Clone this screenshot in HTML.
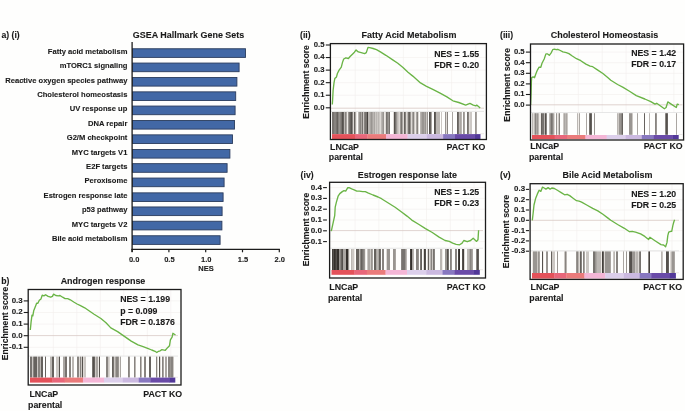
<!DOCTYPE html>
<html><head><meta charset="utf-8"><title>GSEA figure</title>
<style>
html,body{margin:0;padding:0;background:#fefefd;}
body{width:685px;height:411px;overflow:hidden;}
svg{display:block;font-family:"Liberation Sans", sans-serif;filter:blur(0.35px);}
text{stroke:#1a1a1a;stroke-width:0.1px;}
</style></head><body>
<svg width="685" height="411" viewBox="0 0 685 411">
<rect width="685" height="411" fill="#fefefd"/>
<text x="1.40" y="37.70" font-size="8.7" text-anchor="start" font-weight="bold" fill="#1a1a1a" >a) (i)</text>
<text x="132.80" y="38.20" font-size="8.95" text-anchor="start" font-weight="bold" fill="#1a1a1a" >GSEA Hallmark Gene Sets</text>
<rect x="132.50" y="48.75" width="113.00" height="8.65" fill="#4268a6" stroke="#2b3d5e" stroke-width="0.9"/>
<text x="127.40" y="54.10" font-size="7.58" text-anchor="end" font-weight="bold" fill="#1a1a1a" >Fatty acid metabolism</text>
<rect x="132.50" y="63.05" width="106.60" height="8.65" fill="#4268a6" stroke="#2b3d5e" stroke-width="0.9"/>
<text x="127.40" y="68.40" font-size="7.58" text-anchor="end" font-weight="bold" fill="#1a1a1a" >mTORC1 signaling</text>
<rect x="132.50" y="77.45" width="104.40" height="8.65" fill="#4268a6" stroke="#2b3d5e" stroke-width="0.9"/>
<text x="127.40" y="82.80" font-size="7.58" text-anchor="end" font-weight="bold" fill="#1a1a1a" >Reactive oxygen species pathway</text>
<rect x="132.50" y="91.85" width="103.20" height="8.65" fill="#4268a6" stroke="#2b3d5e" stroke-width="0.9"/>
<text x="127.40" y="97.20" font-size="7.58" text-anchor="end" font-weight="bold" fill="#1a1a1a" >Cholesterol homeostasis</text>
<rect x="132.50" y="106.05" width="102.60" height="8.65" fill="#4268a6" stroke="#2b3d5e" stroke-width="0.9"/>
<text x="127.40" y="111.40" font-size="7.58" text-anchor="end" font-weight="bold" fill="#1a1a1a" >UV response up</text>
<rect x="132.50" y="120.45" width="102.00" height="8.65" fill="#4268a6" stroke="#2b3d5e" stroke-width="0.9"/>
<text x="127.40" y="125.80" font-size="7.58" text-anchor="end" font-weight="bold" fill="#1a1a1a" >DNA repair</text>
<rect x="132.50" y="134.85" width="100.00" height="8.65" fill="#4268a6" stroke="#2b3d5e" stroke-width="0.9"/>
<text x="127.40" y="140.20" font-size="7.58" text-anchor="end" font-weight="bold" fill="#1a1a1a" >G2/M checkpoint</text>
<rect x="132.50" y="149.45" width="97.40" height="8.65" fill="#4268a6" stroke="#2b3d5e" stroke-width="0.9"/>
<text x="127.40" y="154.80" font-size="7.58" text-anchor="end" font-weight="bold" fill="#1a1a1a" >MYC targets V1</text>
<rect x="132.50" y="163.65" width="94.60" height="8.65" fill="#4268a6" stroke="#2b3d5e" stroke-width="0.9"/>
<text x="127.40" y="169.00" font-size="7.58" text-anchor="end" font-weight="bold" fill="#1a1a1a" >E2F targets</text>
<rect x="132.50" y="178.05" width="91.60" height="8.65" fill="#4268a6" stroke="#2b3d5e" stroke-width="0.9"/>
<text x="127.40" y="183.40" font-size="7.58" text-anchor="end" font-weight="bold" fill="#1a1a1a" >Peroxisome</text>
<rect x="132.50" y="192.85" width="90.60" height="8.65" fill="#4268a6" stroke="#2b3d5e" stroke-width="0.9"/>
<text x="127.40" y="198.20" font-size="7.58" text-anchor="end" font-weight="bold" fill="#1a1a1a" >Estrogen response late</text>
<rect x="132.50" y="206.95" width="89.60" height="8.65" fill="#4268a6" stroke="#2b3d5e" stroke-width="0.9"/>
<text x="127.40" y="212.30" font-size="7.58" text-anchor="end" font-weight="bold" fill="#1a1a1a" >p53 pathway</text>
<rect x="132.50" y="221.25" width="89.40" height="8.65" fill="#4268a6" stroke="#2b3d5e" stroke-width="0.9"/>
<text x="127.40" y="226.60" font-size="7.58" text-anchor="end" font-weight="bold" fill="#1a1a1a" >MYC targets V2</text>
<rect x="132.50" y="235.75" width="87.60" height="8.65" fill="#4268a6" stroke="#2b3d5e" stroke-width="0.9"/>
<text x="127.40" y="241.10" font-size="7.58" text-anchor="end" font-weight="bold" fill="#1a1a1a" >Bile acid metabolism</text>
<line x1="132.10" y1="42.00" x2="132.10" y2="252.00" stroke="#1c1c1c" stroke-width="1.3"/>
<line x1="131.50" y1="249.30" x2="279.90" y2="249.30" stroke="#1c1c1c" stroke-width="1.3"/>
<line x1="132.10" y1="249.00" x2="132.10" y2="252.30" stroke="#1c1c1c" stroke-width="1.2"/>
<text x="134.10" y="262.20" font-size="7.5" text-anchor="middle" font-weight="bold" fill="#1a1a1a" >0.0</text>
<line x1="168.90" y1="249.00" x2="168.90" y2="252.30" stroke="#1c1c1c" stroke-width="1.2"/>
<text x="169.40" y="262.20" font-size="7.5" text-anchor="middle" font-weight="bold" fill="#1a1a1a" >0.5</text>
<line x1="205.70" y1="249.00" x2="205.70" y2="252.30" stroke="#1c1c1c" stroke-width="1.2"/>
<text x="206.20" y="262.20" font-size="7.5" text-anchor="middle" font-weight="bold" fill="#1a1a1a" >1.0</text>
<line x1="242.50" y1="249.00" x2="242.50" y2="252.30" stroke="#1c1c1c" stroke-width="1.2"/>
<text x="243.00" y="262.20" font-size="7.5" text-anchor="middle" font-weight="bold" fill="#1a1a1a" >1.5</text>
<line x1="279.30" y1="249.00" x2="279.30" y2="252.30" stroke="#1c1c1c" stroke-width="1.2"/>
<text x="279.80" y="262.20" font-size="7.5" text-anchor="middle" font-weight="bold" fill="#1a1a1a" >2.0</text>
<text x="206.00" y="270.90" font-size="7.5" text-anchor="middle" font-weight="bold" fill="#1a1a1a" >NES</text>
<line x1="330.40" y1="45.00" x2="486.40" y2="45.00" stroke="#f1eeec" stroke-width="0.6"/>
<line x1="330.40" y1="57.56" x2="486.40" y2="57.56" stroke="#f1eeec" stroke-width="0.6"/>
<line x1="330.40" y1="70.12" x2="486.40" y2="70.12" stroke="#f1eeec" stroke-width="0.6"/>
<line x1="330.40" y1="82.68" x2="486.40" y2="82.68" stroke="#f1eeec" stroke-width="0.6"/>
<line x1="330.40" y1="95.24" x2="486.40" y2="95.24" stroke="#f1eeec" stroke-width="0.6"/>
<line x1="355.20" y1="43.60" x2="355.20" y2="111.40" stroke="#f1eeec" stroke-width="0.6"/>
<line x1="379.30" y1="43.60" x2="379.30" y2="111.40" stroke="#f1eeec" stroke-width="0.6"/>
<line x1="403.40" y1="43.60" x2="403.40" y2="111.40" stroke="#f1eeec" stroke-width="0.6"/>
<line x1="427.50" y1="43.60" x2="427.50" y2="111.40" stroke="#f1eeec" stroke-width="0.6"/>
<line x1="451.60" y1="43.60" x2="451.60" y2="111.40" stroke="#f1eeec" stroke-width="0.6"/>
<line x1="475.70" y1="43.60" x2="475.70" y2="111.40" stroke="#f1eeec" stroke-width="0.6"/>
<line x1="330.40" y1="108.20" x2="484.00" y2="108.20" stroke="#d8c8c4" stroke-width="0.8"/>
<line x1="330.40" y1="111.40" x2="484.00" y2="111.40" stroke="#dcdcdc" stroke-width="0.7"/>
<line x1="480.00" y1="133.70" x2="484.00" y2="133.70" stroke="#e4e0de" stroke-width="0.7"/>
<rect x="332.00" y="112.00" width="1.00" height="22.00" fill="#77736f" />
<rect x="333.00" y="112.00" width="1.00" height="22.00" fill="#77736f" />
<rect x="334.00" y="112.00" width="1.00" height="22.00" fill="#888480" />
<rect x="335.00" y="112.00" width="1.00" height="22.00" fill="#888480" />
<rect x="336.00" y="112.00" width="1.00" height="22.00" fill="#77736f" />
<rect x="337.00" y="112.00" width="1.00" height="22.00" fill="#66625e" />
<rect x="338.00" y="112.00" width="1.00" height="22.00" fill="#888480" />
<rect x="339.00" y="112.00" width="1.00" height="22.00" fill="#999591" />
<rect x="340.00" y="112.00" width="1.00" height="22.00" fill="#888480" />
<rect x="341.00" y="112.00" width="1.00" height="22.00" fill="#77736f" />
<rect x="342.00" y="112.00" width="1.00" height="22.00" fill="#55514d" />
<rect x="343.00" y="112.00" width="1.00" height="22.00" fill="#66625e" />
<rect x="344.00" y="112.00" width="1.00" height="22.00" fill="#bbb7b3" />
<rect x="345.00" y="112.00" width="1.00" height="22.00" fill="#888480" />
<rect x="346.00" y="112.00" width="1.00" height="22.00" fill="#aaa6a2" />
<rect x="347.00" y="112.00" width="1.00" height="22.00" fill="#eeeae6" />
<rect x="348.00" y="112.00" width="1.00" height="22.00" fill="#999591" />
<rect x="349.00" y="112.00" width="1.00" height="22.00" fill="#77736f" />
<rect x="350.00" y="112.00" width="1.00" height="22.00" fill="#66625e" />
<rect x="351.00" y="112.00" width="1.00" height="22.00" fill="#55514d" />
<rect x="352.00" y="112.00" width="1.00" height="22.00" fill="#888480" />
<rect x="353.00" y="112.00" width="1.00" height="22.00" fill="#ddd9d5" />
<rect x="354.00" y="112.00" width="1.00" height="22.00" fill="#66625e" />
<rect x="355.00" y="112.00" width="1.00" height="22.00" fill="#aaa6a2" />
<rect x="356.00" y="112.00" width="1.00" height="22.00" fill="#eeeae6" />
<rect x="358.00" y="112.00" width="1.00" height="22.00" fill="#bbb7b3" />
<rect x="359.00" y="112.00" width="1.00" height="22.00" fill="#999591" />
<rect x="360.00" y="112.00" width="1.00" height="22.00" fill="#888480" />
<rect x="361.00" y="112.00" width="1.00" height="22.00" fill="#aaa6a2" />
<rect x="362.00" y="112.00" width="1.00" height="22.00" fill="#77736f" />
<rect x="363.00" y="112.00" width="1.00" height="22.00" fill="#ccc8c4" />
<rect x="364.00" y="112.00" width="1.00" height="22.00" fill="#888480" />
<rect x="365.00" y="112.00" width="1.00" height="22.00" fill="#77736f" />
<rect x="366.00" y="112.00" width="1.00" height="22.00" fill="#77736f" />
<rect x="367.00" y="112.00" width="1.00" height="22.00" fill="#44403c" />
<rect x="368.00" y="112.00" width="1.00" height="22.00" fill="#bbb7b3" />
<rect x="369.00" y="112.00" width="1.00" height="22.00" fill="#bbb7b3" />
<rect x="370.00" y="112.00" width="1.00" height="22.00" fill="#aaa6a2" />
<rect x="371.00" y="112.00" width="1.00" height="22.00" fill="#999591" />
<rect x="372.00" y="112.00" width="1.00" height="22.00" fill="#aaa6a2" />
<rect x="373.00" y="112.00" width="1.00" height="22.00" fill="#bbb7b3" />
<rect x="374.00" y="112.00" width="1.00" height="22.00" fill="#aaa6a2" />
<rect x="375.00" y="112.00" width="1.00" height="22.00" fill="#ccc8c4" />
<rect x="376.00" y="112.00" width="1.00" height="22.00" fill="#bbb7b3" />
<rect x="377.00" y="112.00" width="1.00" height="22.00" fill="#ccc8c4" />
<rect x="378.00" y="112.00" width="1.00" height="22.00" fill="#bbb7b3" />
<rect x="379.00" y="112.00" width="1.00" height="22.00" fill="#ccc8c4" />
<rect x="380.00" y="112.00" width="1.00" height="22.00" fill="#ddd9d5" />
<rect x="381.00" y="112.00" width="1.00" height="22.00" fill="#bbb7b3" />
<rect x="382.00" y="112.00" width="1.00" height="22.00" fill="#aaa6a2" />
<rect x="383.00" y="112.00" width="1.00" height="22.00" fill="#999591" />
<rect x="384.00" y="112.00" width="1.00" height="22.00" fill="#eeeae6" />
<rect x="385.00" y="112.00" width="1.00" height="22.00" fill="#ddd9d5" />
<rect x="386.00" y="112.00" width="1.00" height="22.00" fill="#77736f" />
<rect x="387.00" y="112.00" width="1.00" height="22.00" fill="#888480" />
<rect x="388.00" y="112.00" width="1.00" height="22.00" fill="#999591" />
<rect x="389.00" y="112.00" width="1.00" height="22.00" fill="#77736f" />
<rect x="393.00" y="112.00" width="1.00" height="22.00" fill="#ddd9d5" />
<rect x="394.00" y="112.00" width="1.00" height="22.00" fill="#55514d" />
<rect x="395.00" y="112.00" width="1.00" height="22.00" fill="#77736f" />
<rect x="396.00" y="112.00" width="1.00" height="22.00" fill="#999591" />
<rect x="397.00" y="112.00" width="1.00" height="22.00" fill="#bbb7b3" />
<rect x="398.00" y="112.00" width="1.00" height="22.00" fill="#ccc8c4" />
<rect x="399.00" y="112.00" width="1.00" height="22.00" fill="#ddd9d5" />
<rect x="400.00" y="112.00" width="1.00" height="22.00" fill="#999591" />
<rect x="401.00" y="112.00" width="1.00" height="22.00" fill="#77736f" />
<rect x="402.00" y="112.00" width="1.00" height="22.00" fill="#aaa6a2" />
<rect x="403.00" y="112.00" width="1.00" height="22.00" fill="#ddd9d5" />
<rect x="404.00" y="112.00" width="1.00" height="22.00" fill="#66625e" />
<rect x="405.00" y="112.00" width="1.00" height="22.00" fill="#888480" />
<rect x="406.00" y="112.00" width="1.00" height="22.00" fill="#ddd9d5" />
<rect x="407.00" y="112.00" width="1.00" height="22.00" fill="#bbb7b3" />
<rect x="408.00" y="112.00" width="1.00" height="22.00" fill="#77736f" />
<rect x="409.00" y="112.00" width="1.00" height="22.00" fill="#66625e" />
<rect x="410.00" y="112.00" width="1.00" height="22.00" fill="#999591" />
<rect x="411.00" y="112.00" width="1.00" height="22.00" fill="#ddd9d5" />
<rect x="412.00" y="112.00" width="1.00" height="22.00" fill="#aaa6a2" />
<rect x="413.00" y="112.00" width="1.00" height="22.00" fill="#888480" />
<rect x="414.00" y="112.00" width="1.00" height="22.00" fill="#ccc8c4" />
<rect x="415.00" y="112.00" width="1.00" height="22.00" fill="#eeeae6" />
<rect x="416.00" y="112.00" width="1.00" height="22.00" fill="#aaa6a2" />
<rect x="417.00" y="112.00" width="1.00" height="22.00" fill="#888480" />
<rect x="418.00" y="112.00" width="1.00" height="22.00" fill="#ddd9d5" />
<rect x="420.00" y="112.00" width="1.00" height="22.00" fill="#bbb7b3" />
<rect x="421.00" y="112.00" width="1.00" height="22.00" fill="#aaa6a2" />
<rect x="422.00" y="112.00" width="1.00" height="22.00" fill="#999591" />
<rect x="423.00" y="112.00" width="1.00" height="22.00" fill="#999591" />
<rect x="424.00" y="112.00" width="1.00" height="22.00" fill="#aaa6a2" />
<rect x="425.00" y="112.00" width="1.00" height="22.00" fill="#999591" />
<rect x="426.00" y="112.00" width="1.00" height="22.00" fill="#ccc8c4" />
<rect x="427.00" y="112.00" width="1.00" height="22.00" fill="#999591" />
<rect x="429.00" y="112.00" width="1.00" height="22.00" fill="#55514d" />
<rect x="430.00" y="112.00" width="1.00" height="22.00" fill="#66625e" />
<rect x="431.00" y="112.00" width="1.00" height="22.00" fill="#aaa6a2" />
<rect x="434.00" y="112.00" width="1.00" height="22.00" fill="#55514d" />
<rect x="435.00" y="112.00" width="1.00" height="22.00" fill="#66625e" />
<rect x="436.00" y="112.00" width="1.00" height="22.00" fill="#bbb7b3" />
<rect x="437.00" y="112.00" width="1.00" height="22.00" fill="#bbb7b3" />
<rect x="438.00" y="112.00" width="1.00" height="22.00" fill="#bbb7b3" />
<rect x="439.00" y="112.00" width="1.00" height="22.00" fill="#bbb7b3" />
<rect x="441.00" y="112.00" width="1.00" height="22.00" fill="#ccc8c4" />
<rect x="445.00" y="112.00" width="1.00" height="22.00" fill="#999591" />
<rect x="446.00" y="112.00" width="1.00" height="22.00" fill="#ddd9d5" />
<rect x="447.00" y="112.00" width="1.00" height="22.00" fill="#888480" />
<rect x="452.00" y="112.00" width="1.00" height="22.00" fill="#aaa6a2" />
<rect x="457.00" y="112.00" width="1.00" height="22.00" fill="#66625e" />
<rect x="458.00" y="112.00" width="1.00" height="22.00" fill="#77736f" />
<rect x="459.00" y="112.00" width="1.00" height="22.00" fill="#bbb7b3" />
<rect x="460.00" y="112.00" width="1.00" height="22.00" fill="#aaa6a2" />
<rect x="461.00" y="112.00" width="1.00" height="22.00" fill="#bbb7b3" />
<rect x="463.00" y="112.00" width="1.00" height="22.00" fill="#999591" />
<rect x="464.00" y="112.00" width="1.00" height="22.00" fill="#aaa6a2" />
<rect x="467.00" y="112.00" width="1.00" height="22.00" fill="#77736f" />
<rect x="468.00" y="112.00" width="1.00" height="22.00" fill="#888480" />
<rect x="469.00" y="112.00" width="1.00" height="22.00" fill="#ddd9d5" />
<rect x="470.00" y="112.00" width="1.00" height="22.00" fill="#ccc8c4" />
<rect x="471.00" y="112.00" width="1.00" height="22.00" fill="#ccc8c4" />
<rect x="475.00" y="112.00" width="1.00" height="22.00" fill="#999591" />
<rect x="476.00" y="112.00" width="1.00" height="22.00" fill="#aaa6a2" />
<rect x="332.00" y="134.10" width="23.27" height="4.90" fill="#e4525a" />
<rect x="354.97" y="134.10" width="12.75" height="4.90" fill="#e8677a" />
<rect x="367.42" y="134.10" width="18.97" height="4.90" fill="#ea7b7b" />
<rect x="386.09" y="134.10" width="21.79" height="4.90" fill="#f4b6d6" />
<rect x="407.58" y="134.10" width="19.57" height="4.90" fill="#dccfeb" />
<rect x="426.85" y="134.10" width="16.60" height="4.90" fill="#cbb9e0" />
<rect x="443.15" y="134.10" width="12.16" height="4.90" fill="#8878c0" />
<rect x="455.01" y="134.10" width="19.57" height="4.90" fill="#6a4ba8" />
<rect x="474.27" y="134.10" width="6.23" height="4.90" fill="#523899" />
<polyline points="332.3,104.5 332.6,100.2 333.1,90.5 334.0,82.9 334.8,78.6 336.5,76.9 337.4,73.5 339.1,70.1 341.3,67.2 342.5,62.4 343.7,59.0 345.9,57.8 348.4,58.5 350.1,56.5 352.7,53.9 354.4,52.2 356.1,50.0 358.3,51.9 361.2,52.7 364.6,53.6 366.3,52.6 368.0,47.4 369.7,47.6 373.1,48.5 376.5,49.7 380.8,52.2 385.9,55.3 392.7,59.9 397.8,63.3 403.0,67.5 408.0,72.3 412.8,76.1 420.5,82.9 426.5,86.3 433.3,89.7 440.1,93.1 446.9,96.9 452.9,100.8 458.8,102.5 465.7,105.1 469.9,103.4 473.3,105.1 475.9,105.9 476.7,105.1 480.2,108.1" fill="none" stroke="#6ab446" stroke-width="1.35" stroke-linejoin="round"/>
<rect x="330.40" y="43.60" width="156.00" height="95.90" fill="none" stroke="#1c1c1c" stroke-width="1.3"/>
<line x1="325.80" y1="45.00" x2="330.40" y2="45.00" stroke="#1c1c1c" stroke-width="1.1"/>
<text x="324.50" y="46.90" font-size="7.7" text-anchor="end" font-weight="bold" fill="#1a1a1a" >0.5</text>
<line x1="325.80" y1="57.56" x2="330.40" y2="57.56" stroke="#1c1c1c" stroke-width="1.1"/>
<text x="324.50" y="59.46" font-size="7.7" text-anchor="end" font-weight="bold" fill="#1a1a1a" >0.4</text>
<line x1="325.80" y1="70.12" x2="330.40" y2="70.12" stroke="#1c1c1c" stroke-width="1.1"/>
<text x="324.50" y="72.02" font-size="7.7" text-anchor="end" font-weight="bold" fill="#1a1a1a" >0.3</text>
<line x1="325.80" y1="82.68" x2="330.40" y2="82.68" stroke="#1c1c1c" stroke-width="1.1"/>
<text x="324.50" y="84.58" font-size="7.7" text-anchor="end" font-weight="bold" fill="#1a1a1a" >0.2</text>
<line x1="325.80" y1="95.24" x2="330.40" y2="95.24" stroke="#1c1c1c" stroke-width="1.1"/>
<text x="324.50" y="97.14" font-size="7.7" text-anchor="end" font-weight="bold" fill="#1a1a1a" >0.1</text>
<line x1="325.80" y1="107.80" x2="330.40" y2="107.80" stroke="#1c1c1c" stroke-width="1.1"/>
<text x="324.50" y="109.70" font-size="7.7" text-anchor="end" font-weight="bold" fill="#1a1a1a" >0.0</text>
<text x="409.00" y="38.20" font-size="8.98" text-anchor="middle" font-weight="bold" fill="#1a1a1a" >Fatty Acid Metabolism</text>
<text x="300.00" y="38.20" font-size="8.7" text-anchor="start" font-weight="bold" fill="#1a1a1a" >(ii)</text>
<text x="434.20" y="57.30" font-size="8.75" text-anchor="start" font-weight="bold" fill="#1a1a1a" >NES = 1.55</text>
<text x="434.20" y="68.30" font-size="8.75" text-anchor="start" font-weight="bold" fill="#1a1a1a" >FDR = 0.20</text>
<text x="330.10" y="149.50" font-size="8.8" text-anchor="start" font-weight="bold" fill="#1a1a1a" >LNCaP</text>
<text x="328.80" y="160.10" font-size="8.8" text-anchor="start" font-weight="bold" fill="#1a1a1a" >parental</text>
<text x="485.40" y="149.50" font-size="8.8" text-anchor="end" font-weight="bold" fill="#1a1a1a" >PACT KO</text>
<text transform="translate(309.10,81.85) rotate(-90)" font-size="8.72" text-anchor="middle" font-weight="bold" fill="#1c1c1c">Enrichment score</text>
<line x1="530.50" y1="52.10" x2="683.60" y2="52.10" stroke="#f1eeec" stroke-width="0.6"/>
<line x1="530.50" y1="62.70" x2="683.60" y2="62.70" stroke="#f1eeec" stroke-width="0.6"/>
<line x1="530.50" y1="73.30" x2="683.60" y2="73.30" stroke="#f1eeec" stroke-width="0.6"/>
<line x1="530.50" y1="83.90" x2="683.60" y2="83.90" stroke="#f1eeec" stroke-width="0.6"/>
<line x1="530.50" y1="94.50" x2="683.60" y2="94.50" stroke="#f1eeec" stroke-width="0.6"/>
<line x1="554.40" y1="44.00" x2="554.40" y2="112.50" stroke="#f1eeec" stroke-width="0.6"/>
<line x1="578.30" y1="44.00" x2="578.30" y2="112.50" stroke="#f1eeec" stroke-width="0.6"/>
<line x1="602.20" y1="44.00" x2="602.20" y2="112.50" stroke="#f1eeec" stroke-width="0.6"/>
<line x1="626.10" y1="44.00" x2="626.10" y2="112.50" stroke="#f1eeec" stroke-width="0.6"/>
<line x1="650.00" y1="44.00" x2="650.00" y2="112.50" stroke="#f1eeec" stroke-width="0.6"/>
<line x1="673.90" y1="44.00" x2="673.90" y2="112.50" stroke="#f1eeec" stroke-width="0.6"/>
<line x1="530.50" y1="104.80" x2="682.40" y2="104.80" stroke="#d8c8c4" stroke-width="0.8"/>
<line x1="530.50" y1="112.50" x2="682.40" y2="112.50" stroke="#dcdcdc" stroke-width="0.7"/>
<line x1="678.40" y1="134.50" x2="682.40" y2="134.50" stroke="#e4e0de" stroke-width="0.7"/>
<rect x="532.00" y="113.20" width="1.00" height="21.60" fill="#bbb7b3" />
<rect x="533.00" y="113.20" width="1.00" height="21.60" fill="#ddd9d5" />
<rect x="534.00" y="113.20" width="1.00" height="21.60" fill="#bbb7b3" />
<rect x="535.00" y="113.20" width="1.00" height="21.60" fill="#888480" />
<rect x="536.00" y="113.20" width="1.00" height="21.60" fill="#aaa6a2" />
<rect x="537.00" y="113.20" width="1.00" height="21.60" fill="#999591" />
<rect x="538.00" y="113.20" width="1.00" height="21.60" fill="#bbb7b3" />
<rect x="539.00" y="113.20" width="1.00" height="21.60" fill="#eeeae6" />
<rect x="540.00" y="113.20" width="1.00" height="21.60" fill="#eeeae6" />
<rect x="541.00" y="113.20" width="1.00" height="21.60" fill="#66625e" />
<rect x="542.00" y="113.20" width="1.00" height="21.60" fill="#77736f" />
<rect x="543.00" y="113.20" width="1.00" height="21.60" fill="#77736f" />
<rect x="544.00" y="113.20" width="1.00" height="21.60" fill="#bbb7b3" />
<rect x="545.00" y="113.20" width="1.00" height="21.60" fill="#55514d" />
<rect x="546.00" y="113.20" width="1.00" height="21.60" fill="#888480" />
<rect x="549.00" y="113.20" width="1.00" height="21.60" fill="#bbb7b3" />
<rect x="550.00" y="113.20" width="1.00" height="21.60" fill="#999591" />
<rect x="551.00" y="113.20" width="1.00" height="21.60" fill="#77736f" />
<rect x="552.00" y="113.20" width="1.00" height="21.60" fill="#888480" />
<rect x="553.00" y="113.20" width="1.00" height="21.60" fill="#aaa6a2" />
<rect x="554.00" y="113.20" width="1.00" height="21.60" fill="#ddd9d5" />
<rect x="556.00" y="113.20" width="1.00" height="21.60" fill="#999591" />
<rect x="557.00" y="113.20" width="1.00" height="21.60" fill="#eeeae6" />
<rect x="558.00" y="113.20" width="1.00" height="21.60" fill="#ccc8c4" />
<rect x="559.00" y="113.20" width="1.00" height="21.60" fill="#888480" />
<rect x="563.00" y="113.20" width="1.00" height="21.60" fill="#ccc8c4" />
<rect x="564.00" y="113.20" width="1.00" height="21.60" fill="#aaa6a2" />
<rect x="565.00" y="113.20" width="1.00" height="21.60" fill="#bbb7b3" />
<rect x="566.00" y="113.20" width="1.00" height="21.60" fill="#aaa6a2" />
<rect x="567.00" y="113.20" width="1.00" height="21.60" fill="#ccc8c4" />
<rect x="577.00" y="113.20" width="1.00" height="21.60" fill="#bbb7b3" />
<rect x="578.00" y="113.20" width="1.00" height="21.60" fill="#eeeae6" />
<rect x="579.00" y="113.20" width="1.00" height="21.60" fill="#aaa6a2" />
<rect x="586.00" y="113.20" width="1.00" height="21.60" fill="#aaa6a2" />
<rect x="589.00" y="113.20" width="1.00" height="21.60" fill="#77736f" />
<rect x="590.00" y="113.20" width="1.00" height="21.60" fill="#55514d" />
<rect x="591.00" y="113.20" width="1.00" height="21.60" fill="#66625e" />
<rect x="594.00" y="113.20" width="1.00" height="21.60" fill="#999591" />
<rect x="617.00" y="113.20" width="1.00" height="21.60" fill="#bbb7b3" />
<rect x="618.00" y="113.20" width="1.00" height="21.60" fill="#ccc8c4" />
<rect x="619.00" y="113.20" width="1.00" height="21.60" fill="#999591" />
<rect x="620.00" y="113.20" width="1.00" height="21.60" fill="#999591" />
<rect x="621.00" y="113.20" width="1.00" height="21.60" fill="#888480" />
<rect x="622.00" y="113.20" width="1.00" height="21.60" fill="#66625e" />
<rect x="629.00" y="113.20" width="1.00" height="21.60" fill="#999591" />
<rect x="630.00" y="113.20" width="1.00" height="21.60" fill="#999591" />
<rect x="631.00" y="113.20" width="1.00" height="21.60" fill="#999591" />
<rect x="632.00" y="113.20" width="1.00" height="21.60" fill="#ccc8c4" />
<rect x="637.00" y="113.20" width="1.00" height="21.60" fill="#aaa6a2" />
<rect x="644.00" y="113.20" width="1.00" height="21.60" fill="#66625e" />
<rect x="649.00" y="113.20" width="1.00" height="21.60" fill="#bbb7b3" />
<rect x="655.00" y="113.20" width="1.00" height="21.60" fill="#888480" />
<rect x="656.00" y="113.20" width="1.00" height="21.60" fill="#999591" />
<rect x="665.00" y="113.20" width="1.00" height="21.60" fill="#888480" />
<rect x="666.00" y="113.20" width="1.00" height="21.60" fill="#55514d" />
<rect x="667.00" y="113.20" width="1.00" height="21.60" fill="#66625e" />
<rect x="676.00" y="113.20" width="1.00" height="21.60" fill="#aaa6a2" />
<rect x="532.00" y="135.00" width="22.99" height="4.20" fill="#e4525a" />
<rect x="554.69" y="135.00" width="12.60" height="4.20" fill="#e8677a" />
<rect x="566.99" y="135.00" width="18.75" height="4.20" fill="#ea7b7b" />
<rect x="585.44" y="135.00" width="21.53" height="4.20" fill="#f4b6d6" />
<rect x="606.66" y="135.00" width="19.33" height="4.20" fill="#dccfeb" />
<rect x="625.70" y="135.00" width="16.40" height="4.20" fill="#cbb9e0" />
<rect x="641.80" y="135.00" width="12.01" height="4.20" fill="#8878c0" />
<rect x="653.51" y="135.00" width="19.33" height="4.20" fill="#6a4ba8" />
<rect x="672.54" y="135.00" width="6.16" height="4.20" fill="#523899" />
<polyline points="530.6,105.0 531.1,93.1 531.4,81.1 531.7,77.7 533.1,76.9 534.5,77.7 535.7,74.3 537.4,70.1 539.1,67.2 540.8,67.2 542.0,63.3 544.2,59.0 545.9,53.9 547.6,53.9 549.3,55.3 551.0,53.1 552.7,49.7 554.4,49.1 556.1,49.7 557.8,49.3 560.3,50.5 562.9,51.9 566.3,52.6 568.9,53.6 572.3,56.0 576.5,58.7 580.8,60.7 585.9,64.1 590.1,66.2 592.7,66.7 597.8,70.1 602.9,73.5 608.0,77.7 610.8,80.3 617.6,84.5 622.7,87.1 629.5,91.3 636.3,95.6 644.8,99.0 650.8,101.6 655.0,104.1 656.7,103.3 660.2,105.8 664.4,108.7 666.1,107.5 667.8,101.9 671.2,104.1 676.3,107.5 677.2,104.1 678.9,104.6" fill="none" stroke="#6ab446" stroke-width="1.35" stroke-linejoin="round"/>
<rect x="530.50" y="44.00" width="153.10" height="96.00" fill="none" stroke="#1c1c1c" stroke-width="1.3"/>
<line x1="525.90" y1="52.10" x2="530.50" y2="52.10" stroke="#1c1c1c" stroke-width="1.1"/>
<text x="524.60" y="54.00" font-size="7.7" text-anchor="end" font-weight="bold" fill="#1a1a1a" >0.5</text>
<line x1="525.90" y1="62.70" x2="530.50" y2="62.70" stroke="#1c1c1c" stroke-width="1.1"/>
<text x="524.60" y="64.60" font-size="7.7" text-anchor="end" font-weight="bold" fill="#1a1a1a" >0.4</text>
<line x1="525.90" y1="73.30" x2="530.50" y2="73.30" stroke="#1c1c1c" stroke-width="1.1"/>
<text x="524.60" y="75.20" font-size="7.7" text-anchor="end" font-weight="bold" fill="#1a1a1a" >0.3</text>
<line x1="525.90" y1="83.90" x2="530.50" y2="83.90" stroke="#1c1c1c" stroke-width="1.1"/>
<text x="524.60" y="85.80" font-size="7.7" text-anchor="end" font-weight="bold" fill="#1a1a1a" >0.2</text>
<line x1="525.90" y1="94.50" x2="530.50" y2="94.50" stroke="#1c1c1c" stroke-width="1.1"/>
<text x="524.60" y="96.40" font-size="7.7" text-anchor="end" font-weight="bold" fill="#1a1a1a" >0.1</text>
<line x1="525.90" y1="105.10" x2="530.50" y2="105.10" stroke="#1c1c1c" stroke-width="1.1"/>
<text x="524.60" y="107.00" font-size="7.7" text-anchor="end" font-weight="bold" fill="#1a1a1a" >0.0</text>
<text x="604.50" y="38.20" font-size="8.98" text-anchor="middle" font-weight="bold" fill="#1a1a1a" >Cholesterol Homeostasis</text>
<text x="500.00" y="38.20" font-size="8.7" text-anchor="start" font-weight="bold" fill="#1a1a1a" >(iii)</text>
<text x="631.20" y="56.40" font-size="8.75" text-anchor="start" font-weight="bold" fill="#1a1a1a" >NES = 1.42</text>
<text x="631.20" y="67.40" font-size="8.75" text-anchor="start" font-weight="bold" fill="#1a1a1a" >FDR = 0.17</text>
<text x="530.20" y="149.40" font-size="8.8" text-anchor="start" font-weight="bold" fill="#1a1a1a" >LNCaP</text>
<text x="528.90" y="160.00" font-size="8.8" text-anchor="start" font-weight="bold" fill="#1a1a1a" >parental</text>
<text x="682.60" y="149.40" font-size="8.8" text-anchor="end" font-weight="bold" fill="#1a1a1a" >PACT KO</text>
<text transform="translate(509.80,84.80) rotate(-90)" font-size="8.72" text-anchor="middle" font-weight="bold" fill="#1c1c1c">Enrichment score</text>
<line x1="329.60" y1="187.60" x2="485.50" y2="187.60" stroke="#f1eeec" stroke-width="0.6"/>
<line x1="329.60" y1="198.40" x2="485.50" y2="198.40" stroke="#f1eeec" stroke-width="0.6"/>
<line x1="329.60" y1="209.20" x2="485.50" y2="209.20" stroke="#f1eeec" stroke-width="0.6"/>
<line x1="329.60" y1="220.00" x2="485.50" y2="220.00" stroke="#f1eeec" stroke-width="0.6"/>
<line x1="329.60" y1="241.60" x2="485.50" y2="241.60" stroke="#f1eeec" stroke-width="0.6"/>
<line x1="355.10" y1="182.30" x2="355.10" y2="248.20" stroke="#f1eeec" stroke-width="0.6"/>
<line x1="378.90" y1="182.30" x2="378.90" y2="248.20" stroke="#f1eeec" stroke-width="0.6"/>
<line x1="402.70" y1="182.30" x2="402.70" y2="248.20" stroke="#f1eeec" stroke-width="0.6"/>
<line x1="426.50" y1="182.30" x2="426.50" y2="248.20" stroke="#f1eeec" stroke-width="0.6"/>
<line x1="450.30" y1="182.30" x2="450.30" y2="248.20" stroke="#f1eeec" stroke-width="0.6"/>
<line x1="474.10" y1="182.30" x2="474.10" y2="248.20" stroke="#f1eeec" stroke-width="0.6"/>
<line x1="329.60" y1="230.60" x2="483.00" y2="230.60" stroke="#d8c8c4" stroke-width="0.8"/>
<line x1="329.60" y1="248.20" x2="483.00" y2="248.20" stroke="#dcdcdc" stroke-width="0.7"/>
<line x1="479.00" y1="269.70" x2="483.00" y2="269.70" stroke="#e4e0de" stroke-width="0.7"/>
<rect x="332.00" y="249.00" width="1.00" height="21.00" fill="#44403c" />
<rect x="333.00" y="249.00" width="1.00" height="21.00" fill="#55514d" />
<rect x="334.00" y="249.00" width="1.00" height="21.00" fill="#332f2b" />
<rect x="335.00" y="249.00" width="1.00" height="21.00" fill="#44403c" />
<rect x="336.00" y="249.00" width="1.00" height="21.00" fill="#55514d" />
<rect x="337.00" y="249.00" width="1.00" height="21.00" fill="#332f2b" />
<rect x="338.00" y="249.00" width="1.00" height="21.00" fill="#332f2b" />
<rect x="339.00" y="249.00" width="1.00" height="21.00" fill="#999591" />
<rect x="340.00" y="249.00" width="1.00" height="21.00" fill="#888480" />
<rect x="341.00" y="249.00" width="1.00" height="21.00" fill="#66625e" />
<rect x="342.00" y="249.00" width="1.00" height="21.00" fill="#55514d" />
<rect x="343.00" y="249.00" width="1.00" height="21.00" fill="#aaa6a2" />
<rect x="344.00" y="249.00" width="1.00" height="21.00" fill="#aaa6a2" />
<rect x="345.00" y="249.00" width="1.00" height="21.00" fill="#aaa6a2" />
<rect x="346.00" y="249.00" width="1.00" height="21.00" fill="#332f2b" />
<rect x="347.00" y="249.00" width="1.00" height="21.00" fill="#332f2b" />
<rect x="348.00" y="249.00" width="1.00" height="21.00" fill="#999591" />
<rect x="349.00" y="249.00" width="1.00" height="21.00" fill="#eeeae6" />
<rect x="351.00" y="249.00" width="1.00" height="21.00" fill="#bbb7b3" />
<rect x="352.00" y="249.00" width="1.00" height="21.00" fill="#ccc8c4" />
<rect x="353.00" y="249.00" width="1.00" height="21.00" fill="#ccc8c4" />
<rect x="354.00" y="249.00" width="1.00" height="21.00" fill="#eeeae6" />
<rect x="356.00" y="249.00" width="1.00" height="21.00" fill="#66625e" />
<rect x="357.00" y="249.00" width="1.00" height="21.00" fill="#66625e" />
<rect x="358.00" y="249.00" width="1.00" height="21.00" fill="#66625e" />
<rect x="359.00" y="249.00" width="1.00" height="21.00" fill="#bbb7b3" />
<rect x="360.00" y="249.00" width="1.00" height="21.00" fill="#888480" />
<rect x="361.00" y="249.00" width="1.00" height="21.00" fill="#66625e" />
<rect x="362.00" y="249.00" width="1.00" height="21.00" fill="#77736f" />
<rect x="363.00" y="249.00" width="1.00" height="21.00" fill="#888480" />
<rect x="364.00" y="249.00" width="1.00" height="21.00" fill="#999591" />
<rect x="365.00" y="249.00" width="1.00" height="21.00" fill="#eeeae6" />
<rect x="367.00" y="249.00" width="1.00" height="21.00" fill="#ccc8c4" />
<rect x="368.00" y="249.00" width="1.00" height="21.00" fill="#aaa6a2" />
<rect x="369.00" y="249.00" width="1.00" height="21.00" fill="#aaa6a2" />
<rect x="370.00" y="249.00" width="1.00" height="21.00" fill="#ccc8c4" />
<rect x="371.00" y="249.00" width="1.00" height="21.00" fill="#999591" />
<rect x="372.00" y="249.00" width="1.00" height="21.00" fill="#aaa6a2" />
<rect x="374.00" y="249.00" width="1.00" height="21.00" fill="#66625e" />
<rect x="375.00" y="249.00" width="1.00" height="21.00" fill="#66625e" />
<rect x="376.00" y="249.00" width="1.00" height="21.00" fill="#aaa6a2" />
<rect x="377.00" y="249.00" width="1.00" height="21.00" fill="#bbb7b3" />
<rect x="378.00" y="249.00" width="1.00" height="21.00" fill="#aaa6a2" />
<rect x="379.00" y="249.00" width="1.00" height="21.00" fill="#66625e" />
<rect x="380.00" y="249.00" width="1.00" height="21.00" fill="#77736f" />
<rect x="382.00" y="249.00" width="1.00" height="21.00" fill="#888480" />
<rect x="383.00" y="249.00" width="1.00" height="21.00" fill="#888480" />
<rect x="386.00" y="249.00" width="1.00" height="21.00" fill="#ddd9d5" />
<rect x="387.00" y="249.00" width="1.00" height="21.00" fill="#999591" />
<rect x="388.00" y="249.00" width="1.00" height="21.00" fill="#999591" />
<rect x="389.00" y="249.00" width="1.00" height="21.00" fill="#999591" />
<rect x="393.00" y="249.00" width="1.00" height="21.00" fill="#999591" />
<rect x="394.00" y="249.00" width="1.00" height="21.00" fill="#999591" />
<rect x="395.00" y="249.00" width="1.00" height="21.00" fill="#aaa6a2" />
<rect x="401.00" y="249.00" width="1.00" height="21.00" fill="#888480" />
<rect x="402.00" y="249.00" width="1.00" height="21.00" fill="#77736f" />
<rect x="403.00" y="249.00" width="1.00" height="21.00" fill="#77736f" />
<rect x="404.00" y="249.00" width="1.00" height="21.00" fill="#77736f" />
<rect x="405.00" y="249.00" width="1.00" height="21.00" fill="#999591" />
<rect x="406.00" y="249.00" width="1.00" height="21.00" fill="#bbb7b3" />
<rect x="410.00" y="249.00" width="1.00" height="21.00" fill="#44403c" />
<rect x="411.00" y="249.00" width="1.00" height="21.00" fill="#332f2b" />
<rect x="412.00" y="249.00" width="1.00" height="21.00" fill="#aaa6a2" />
<rect x="413.00" y="249.00" width="1.00" height="21.00" fill="#bbb7b3" />
<rect x="416.00" y="249.00" width="1.00" height="21.00" fill="#888480" />
<rect x="417.00" y="249.00" width="1.00" height="21.00" fill="#888480" />
<rect x="418.00" y="249.00" width="1.00" height="21.00" fill="#999591" />
<rect x="420.00" y="249.00" width="1.00" height="21.00" fill="#77736f" />
<rect x="421.00" y="249.00" width="1.00" height="21.00" fill="#66625e" />
<rect x="423.00" y="249.00" width="1.00" height="21.00" fill="#ddd9d5" />
<rect x="424.00" y="249.00" width="1.00" height="21.00" fill="#44403c" />
<rect x="425.00" y="249.00" width="1.00" height="21.00" fill="#55514d" />
<rect x="427.00" y="249.00" width="1.00" height="21.00" fill="#ddd9d5" />
<rect x="428.00" y="249.00" width="1.00" height="21.00" fill="#66625e" />
<rect x="429.00" y="249.00" width="1.00" height="21.00" fill="#ddd9d5" />
<rect x="430.00" y="249.00" width="1.00" height="21.00" fill="#bbb7b3" />
<rect x="431.00" y="249.00" width="1.00" height="21.00" fill="#888480" />
<rect x="432.00" y="249.00" width="1.00" height="21.00" fill="#ccc8c4" />
<rect x="433.00" y="249.00" width="1.00" height="21.00" fill="#77736f" />
<rect x="434.00" y="249.00" width="1.00" height="21.00" fill="#888480" />
<rect x="440.00" y="249.00" width="1.00" height="21.00" fill="#bbb7b3" />
<rect x="441.00" y="249.00" width="1.00" height="21.00" fill="#bbb7b3" />
<rect x="442.00" y="249.00" width="1.00" height="21.00" fill="#eeeae6" />
<rect x="445.00" y="249.00" width="1.00" height="21.00" fill="#999591" />
<rect x="446.00" y="249.00" width="1.00" height="21.00" fill="#999591" />
<rect x="447.00" y="249.00" width="1.00" height="21.00" fill="#55514d" />
<rect x="448.00" y="249.00" width="1.00" height="21.00" fill="#77736f" />
<rect x="450.00" y="249.00" width="1.00" height="21.00" fill="#888480" />
<rect x="451.00" y="249.00" width="1.00" height="21.00" fill="#999591" />
<rect x="455.00" y="249.00" width="1.00" height="21.00" fill="#888480" />
<rect x="456.00" y="249.00" width="1.00" height="21.00" fill="#888480" />
<rect x="458.00" y="249.00" width="1.00" height="21.00" fill="#44403c" />
<rect x="459.00" y="249.00" width="1.00" height="21.00" fill="#332f2b" />
<rect x="462.00" y="249.00" width="1.00" height="21.00" fill="#55514d" />
<rect x="463.00" y="249.00" width="1.00" height="21.00" fill="#44403c" />
<rect x="464.00" y="249.00" width="1.00" height="21.00" fill="#ddd9d5" />
<rect x="467.00" y="249.00" width="1.00" height="21.00" fill="#bbb7b3" />
<rect x="468.00" y="249.00" width="1.00" height="21.00" fill="#bbb7b3" />
<rect x="469.00" y="249.00" width="1.00" height="21.00" fill="#aaa6a2" />
<rect x="470.00" y="249.00" width="1.00" height="21.00" fill="#888480" />
<rect x="471.00" y="249.00" width="1.00" height="21.00" fill="#999591" />
<rect x="472.00" y="249.00" width="1.00" height="21.00" fill="#aaa6a2" />
<rect x="476.00" y="249.00" width="1.00" height="21.00" fill="#888480" />
<rect x="477.00" y="249.00" width="1.00" height="21.00" fill="#55514d" />
<rect x="478.00" y="249.00" width="1.00" height="21.00" fill="#66625e" />
<rect x="331.50" y="270.00" width="23.24" height="4.80" fill="#e4525a" />
<rect x="354.44" y="270.00" width="12.73" height="4.80" fill="#e8677a" />
<rect x="366.87" y="270.00" width="18.95" height="4.80" fill="#ea7b7b" />
<rect x="385.52" y="270.00" width="21.76" height="4.80" fill="#f4b6d6" />
<rect x="406.98" y="270.00" width="19.54" height="4.80" fill="#dccfeb" />
<rect x="426.22" y="270.00" width="16.58" height="4.80" fill="#cbb9e0" />
<rect x="442.50" y="270.00" width="12.14" height="4.80" fill="#8878c0" />
<rect x="454.34" y="270.00" width="19.54" height="4.80" fill="#6a4ba8" />
<rect x="473.58" y="270.00" width="6.22" height="4.80" fill="#523899" />
<polyline points="331.3,231.1 333.0,223.4 334.7,215.7 335.2,207.2 336.4,202.1 338.1,196.2 339.8,193.6 342.3,191.6 344.0,190.6 345.7,191.1 347.8,187.7 349.1,187.7 351.7,188.9 354.2,189.9 356.8,191.1 359.3,191.1 362.7,191.6 365.3,191.6 367.9,192.8 373.0,195.0 378.1,197.0 381.5,198.7 388.3,203.0 395.1,207.2 401.9,212.3 407.0,216.1 411.8,220.1 418.6,224.3 425.5,228.6 432.3,232.5 439.1,237.1 445.1,240.5 449.3,241.4 452.7,243.1 456.1,244.4 459.6,244.8 462.1,243.1 463.8,240.5 467.2,241.7 470.6,240.5 473.2,238.3 476.6,241.4 478.0,239.7 478.6,230.3" fill="none" stroke="#6ab446" stroke-width="1.35" stroke-linejoin="round"/>
<rect x="329.60" y="182.30" width="155.90" height="95.70" fill="none" stroke="#1c1c1c" stroke-width="1.3"/>
<line x1="323.10" y1="187.60" x2="326.90" y2="187.60" stroke="#1c1c1c" stroke-width="1.1"/>
<text x="322.00" y="189.50" font-size="8.1" text-anchor="end" font-weight="bold" fill="#1a1a1a" >0.4</text>
<line x1="323.10" y1="198.40" x2="326.90" y2="198.40" stroke="#1c1c1c" stroke-width="1.1"/>
<text x="322.00" y="200.30" font-size="8.1" text-anchor="end" font-weight="bold" fill="#1a1a1a" >0.3</text>
<line x1="323.10" y1="209.20" x2="326.90" y2="209.20" stroke="#1c1c1c" stroke-width="1.1"/>
<text x="322.00" y="211.10" font-size="8.1" text-anchor="end" font-weight="bold" fill="#1a1a1a" >0.2</text>
<line x1="323.10" y1="220.00" x2="326.90" y2="220.00" stroke="#1c1c1c" stroke-width="1.1"/>
<text x="322.00" y="221.90" font-size="8.1" text-anchor="end" font-weight="bold" fill="#1a1a1a" >0.1</text>
<line x1="323.10" y1="230.80" x2="326.90" y2="230.80" stroke="#1c1c1c" stroke-width="1.1"/>
<text x="322.00" y="232.70" font-size="8.1" text-anchor="end" font-weight="bold" fill="#1a1a1a" >0.0</text>
<line x1="323.10" y1="241.60" x2="326.90" y2="241.60" stroke="#1c1c1c" stroke-width="1.1"/>
<text x="322.00" y="243.50" font-size="8.1" text-anchor="end" font-weight="bold" fill="#1a1a1a" >-0.1</text>
<text x="407.30" y="178.20" font-size="8.98" text-anchor="middle" font-weight="bold" fill="#1a1a1a" >Estrogen response late</text>
<text x="300.60" y="178.20" font-size="8.7" text-anchor="start" font-weight="bold" fill="#1a1a1a" >(iv)</text>
<text x="434.20" y="194.60" font-size="8.75" text-anchor="start" font-weight="bold" fill="#1a1a1a" >NES = 1.25</text>
<text x="434.20" y="205.90" font-size="8.75" text-anchor="start" font-weight="bold" fill="#1a1a1a" >FDR = 0.23</text>
<text x="329.30" y="290.00" font-size="8.8" text-anchor="start" font-weight="bold" fill="#1a1a1a" >LNCaP</text>
<text x="328.00" y="300.60" font-size="8.8" text-anchor="start" font-weight="bold" fill="#1a1a1a" >parental</text>
<text x="485.70" y="290.00" font-size="8.8" text-anchor="end" font-weight="bold" fill="#1a1a1a" >PACT KO</text>
<text transform="translate(308.90,229.50) rotate(-90)" font-size="8.72" text-anchor="middle" font-weight="bold" fill="#1c1c1c">Enrichment score</text>
<line x1="530.10" y1="189.40" x2="683.20" y2="189.40" stroke="#f1eeec" stroke-width="0.6"/>
<line x1="530.10" y1="199.70" x2="683.20" y2="199.70" stroke="#f1eeec" stroke-width="0.6"/>
<line x1="530.10" y1="210.00" x2="683.20" y2="210.00" stroke="#f1eeec" stroke-width="0.6"/>
<line x1="530.10" y1="230.60" x2="683.20" y2="230.60" stroke="#f1eeec" stroke-width="0.6"/>
<line x1="530.10" y1="240.90" x2="683.20" y2="240.90" stroke="#f1eeec" stroke-width="0.6"/>
<line x1="530.10" y1="251.20" x2="683.20" y2="251.20" stroke="#f1eeec" stroke-width="0.6"/>
<line x1="553.00" y1="183.70" x2="553.00" y2="250.80" stroke="#f1eeec" stroke-width="0.6"/>
<line x1="576.80" y1="183.70" x2="576.80" y2="250.80" stroke="#f1eeec" stroke-width="0.6"/>
<line x1="600.60" y1="183.70" x2="600.60" y2="250.80" stroke="#f1eeec" stroke-width="0.6"/>
<line x1="624.40" y1="183.70" x2="624.40" y2="250.80" stroke="#f1eeec" stroke-width="0.6"/>
<line x1="648.20" y1="183.70" x2="648.20" y2="250.80" stroke="#f1eeec" stroke-width="0.6"/>
<line x1="672.00" y1="183.70" x2="672.00" y2="250.80" stroke="#f1eeec" stroke-width="0.6"/>
<line x1="530.10" y1="220.30" x2="679.00" y2="220.30" stroke="#d8c8c4" stroke-width="0.8"/>
<line x1="530.10" y1="250.80" x2="679.00" y2="250.80" stroke="#dcdcdc" stroke-width="0.7"/>
<line x1="675.00" y1="272.70" x2="679.00" y2="272.70" stroke="#e4e0de" stroke-width="0.7"/>
<rect x="532.00" y="251.40" width="1.00" height="21.60" fill="#eeeae6" />
<rect x="533.00" y="251.40" width="1.00" height="21.60" fill="#999591" />
<rect x="534.00" y="251.40" width="1.00" height="21.60" fill="#999591" />
<rect x="535.00" y="251.40" width="1.00" height="21.60" fill="#999591" />
<rect x="536.00" y="251.40" width="1.00" height="21.60" fill="#999591" />
<rect x="537.00" y="251.40" width="1.00" height="21.60" fill="#ccc8c4" />
<rect x="538.00" y="251.40" width="1.00" height="21.60" fill="#999591" />
<rect x="539.00" y="251.40" width="1.00" height="21.60" fill="#aaa6a2" />
<rect x="542.00" y="251.40" width="1.00" height="21.60" fill="#55514d" />
<rect x="543.00" y="251.40" width="1.00" height="21.60" fill="#eeeae6" />
<rect x="546.00" y="251.40" width="1.00" height="21.60" fill="#999591" />
<rect x="547.00" y="251.40" width="1.00" height="21.60" fill="#999591" />
<rect x="551.00" y="251.40" width="1.00" height="21.60" fill="#66625e" />
<rect x="552.00" y="251.40" width="1.00" height="21.60" fill="#ccc8c4" />
<rect x="553.00" y="251.40" width="1.00" height="21.60" fill="#ccc8c4" />
<rect x="554.00" y="251.40" width="1.00" height="21.60" fill="#ccc8c4" />
<rect x="557.00" y="251.40" width="1.00" height="21.60" fill="#999591" />
<rect x="564.00" y="251.40" width="1.00" height="21.60" fill="#ccc8c4" />
<rect x="565.00" y="251.40" width="1.00" height="21.60" fill="#888480" />
<rect x="566.00" y="251.40" width="1.00" height="21.60" fill="#bbb7b3" />
<rect x="576.00" y="251.40" width="1.00" height="21.60" fill="#999591" />
<rect x="577.00" y="251.40" width="1.00" height="21.60" fill="#888480" />
<rect x="578.00" y="251.40" width="1.00" height="21.60" fill="#bbb7b3" />
<rect x="579.00" y="251.40" width="1.00" height="21.60" fill="#ddd9d5" />
<rect x="580.00" y="251.40" width="1.00" height="21.60" fill="#66625e" />
<rect x="581.00" y="251.40" width="1.00" height="21.60" fill="#888480" />
<rect x="583.00" y="251.40" width="1.00" height="21.60" fill="#888480" />
<rect x="584.00" y="251.40" width="1.00" height="21.60" fill="#aaa6a2" />
<rect x="586.00" y="251.40" width="1.00" height="21.60" fill="#ccc8c4" />
<rect x="587.00" y="251.40" width="1.00" height="21.60" fill="#ccc8c4" />
<rect x="588.00" y="251.40" width="1.00" height="21.60" fill="#ccc8c4" />
<rect x="593.00" y="251.40" width="1.00" height="21.60" fill="#77736f" />
<rect x="594.00" y="251.40" width="1.00" height="21.60" fill="#77736f" />
<rect x="595.00" y="251.40" width="1.00" height="21.60" fill="#999591" />
<rect x="596.00" y="251.40" width="1.00" height="21.60" fill="#aaa6a2" />
<rect x="597.00" y="251.40" width="1.00" height="21.60" fill="#bbb7b3" />
<rect x="598.00" y="251.40" width="1.00" height="21.60" fill="#bbb7b3" />
<rect x="599.00" y="251.40" width="1.00" height="21.60" fill="#bbb7b3" />
<rect x="600.00" y="251.40" width="1.00" height="21.60" fill="#bbb7b3" />
<rect x="601.00" y="251.40" width="1.00" height="21.60" fill="#eeeae6" />
<rect x="602.00" y="251.40" width="1.00" height="21.60" fill="#44403c" />
<rect x="603.00" y="251.40" width="1.00" height="21.60" fill="#66625e" />
<rect x="604.00" y="251.40" width="1.00" height="21.60" fill="#ddd9d5" />
<rect x="605.00" y="251.40" width="1.00" height="21.60" fill="#999591" />
<rect x="606.00" y="251.40" width="1.00" height="21.60" fill="#999591" />
<rect x="607.00" y="251.40" width="1.00" height="21.60" fill="#999591" />
<rect x="608.00" y="251.40" width="1.00" height="21.60" fill="#999591" />
<rect x="609.00" y="251.40" width="1.00" height="21.60" fill="#999591" />
<rect x="610.00" y="251.40" width="1.00" height="21.60" fill="#aaa6a2" />
<rect x="613.00" y="251.40" width="1.00" height="21.60" fill="#ccc8c4" />
<rect x="614.00" y="251.40" width="1.00" height="21.60" fill="#bbb7b3" />
<rect x="616.00" y="251.40" width="1.00" height="21.60" fill="#888480" />
<rect x="617.00" y="251.40" width="1.00" height="21.60" fill="#888480" />
<rect x="623.00" y="251.40" width="1.00" height="21.60" fill="#aaa6a2" />
<rect x="626.00" y="251.40" width="1.00" height="21.60" fill="#999591" />
<rect x="629.00" y="251.40" width="1.00" height="21.60" fill="#66625e" />
<rect x="630.00" y="251.40" width="1.00" height="21.60" fill="#55514d" />
<rect x="631.00" y="251.40" width="1.00" height="21.60" fill="#55514d" />
<rect x="632.00" y="251.40" width="1.00" height="21.60" fill="#999591" />
<rect x="633.00" y="251.40" width="1.00" height="21.60" fill="#999591" />
<rect x="634.00" y="251.40" width="1.00" height="21.60" fill="#999591" />
<rect x="635.00" y="251.40" width="1.00" height="21.60" fill="#ccc8c4" />
<rect x="636.00" y="251.40" width="1.00" height="21.60" fill="#bbb7b3" />
<rect x="637.00" y="251.40" width="1.00" height="21.60" fill="#bbb7b3" />
<rect x="638.00" y="251.40" width="1.00" height="21.60" fill="#ddd9d5" />
<rect x="639.00" y="251.40" width="1.00" height="21.60" fill="#888480" />
<rect x="640.00" y="251.40" width="1.00" height="21.60" fill="#77736f" />
<rect x="648.00" y="251.40" width="1.00" height="21.60" fill="#888480" />
<rect x="649.00" y="251.40" width="1.00" height="21.60" fill="#44403c" />
<rect x="661.00" y="251.40" width="1.00" height="21.60" fill="#bbb7b3" />
<rect x="662.00" y="251.40" width="1.00" height="21.60" fill="#ccc8c4" />
<rect x="666.00" y="251.40" width="1.00" height="21.60" fill="#55514d" />
<rect x="667.00" y="251.40" width="1.00" height="21.60" fill="#55514d" />
<rect x="668.00" y="251.40" width="1.00" height="21.60" fill="#66625e" />
<rect x="670.00" y="251.40" width="1.00" height="21.60" fill="#ddd9d5" />
<rect x="671.00" y="251.40" width="1.00" height="21.60" fill="#bbb7b3" />
<rect x="672.00" y="251.40" width="1.00" height="21.60" fill="#999591" />
<rect x="673.00" y="251.40" width="1.00" height="21.60" fill="#999591" />
<rect x="674.00" y="251.40" width="1.00" height="21.60" fill="#aaa6a2" />
<rect x="532.00" y="273.00" width="22.56" height="5.60" fill="#e4525a" />
<rect x="554.26" y="273.00" width="12.36" height="5.60" fill="#e8677a" />
<rect x="566.32" y="273.00" width="18.39" height="5.60" fill="#ea7b7b" />
<rect x="584.41" y="273.00" width="21.12" height="5.60" fill="#f4b6d6" />
<rect x="605.24" y="273.00" width="18.97" height="5.60" fill="#dccfeb" />
<rect x="623.90" y="273.00" width="16.10" height="5.60" fill="#cbb9e0" />
<rect x="639.70" y="273.00" width="11.79" height="5.60" fill="#8878c0" />
<rect x="651.19" y="273.00" width="18.97" height="5.60" fill="#6a4ba8" />
<rect x="669.86" y="273.00" width="6.04" height="5.60" fill="#523899" />
<polyline points="532.3,220.3 533.1,213.5 534.0,205.0 535.7,198.2 537.4,193.9 539.1,190.2 540.8,191.4 542.5,187.1 544.2,188.0 545.9,189.1 548.1,187.6 550.1,189.1 551.8,188.0 554.4,188.5 557.8,190.5 561.2,192.6 564.6,194.8 567.1,194.3 569.7,195.6 573.1,198.2 576.5,200.7 579.1,201.1 581.6,202.1 586.7,205.0 592.7,208.4 597.8,210.9 602.9,214.3 608.0,218.1 610.8,220.3 617.6,224.5 624.4,228.3 629.5,231.7 632.1,231.3 635.5,232.2 640.6,233.9 644.8,236.4 648.6,239.5 649.9,237.3 655.0,240.7 661.0,244.6 663.6,245.0 665.6,246.7 667.0,242.4 667.8,235.6 668.7,232.2 670.7,231.3 671.7,231.3 672.9,225.4 673.8,222.0 674.6,219.8" fill="none" stroke="#6ab446" stroke-width="1.35" stroke-linejoin="round"/>
<rect x="530.10" y="183.70" width="153.10" height="95.70" fill="none" stroke="#1c1c1c" stroke-width="1.3"/>
<line x1="525.90" y1="189.40" x2="529.10" y2="189.40" stroke="#1c1c1c" stroke-width="1.1"/>
<text x="525.10" y="191.30" font-size="7.9" text-anchor="end" font-weight="bold" fill="#1a1a1a" >0.3</text>
<line x1="525.90" y1="199.70" x2="529.10" y2="199.70" stroke="#1c1c1c" stroke-width="1.1"/>
<text x="525.10" y="201.60" font-size="7.9" text-anchor="end" font-weight="bold" fill="#1a1a1a" >0.2</text>
<line x1="525.90" y1="210.00" x2="529.10" y2="210.00" stroke="#1c1c1c" stroke-width="1.1"/>
<text x="525.10" y="211.90" font-size="7.9" text-anchor="end" font-weight="bold" fill="#1a1a1a" >0.1</text>
<line x1="525.90" y1="220.30" x2="529.10" y2="220.30" stroke="#1c1c1c" stroke-width="1.1"/>
<text x="525.10" y="222.20" font-size="7.9" text-anchor="end" font-weight="bold" fill="#1a1a1a" >0.0</text>
<line x1="525.90" y1="230.60" x2="529.10" y2="230.60" stroke="#1c1c1c" stroke-width="1.1"/>
<text x="525.10" y="232.50" font-size="7.9" text-anchor="end" font-weight="bold" fill="#1a1a1a" >-0.1</text>
<line x1="525.90" y1="240.90" x2="529.10" y2="240.90" stroke="#1c1c1c" stroke-width="1.1"/>
<text x="525.10" y="242.80" font-size="7.9" text-anchor="end" font-weight="bold" fill="#1a1a1a" >-0.2</text>
<line x1="525.90" y1="251.20" x2="529.10" y2="251.20" stroke="#1c1c1c" stroke-width="1.1"/>
<text x="525.10" y="253.10" font-size="7.9" text-anchor="end" font-weight="bold" fill="#1a1a1a" >-0.3</text>
<text x="607.50" y="178.20" font-size="8.98" text-anchor="middle" font-weight="bold" fill="#1a1a1a" >Bile Acid Metabolism</text>
<text x="500.00" y="178.20" font-size="8.7" text-anchor="start" font-weight="bold" fill="#1a1a1a" >(v)</text>
<text x="631.20" y="196.90" font-size="8.75" text-anchor="start" font-weight="bold" fill="#1a1a1a" >NES = 1.20</text>
<text x="631.20" y="207.90" font-size="8.75" text-anchor="start" font-weight="bold" fill="#1a1a1a" >FDR = 0.25</text>
<text x="530.60" y="290.00" font-size="8.8" text-anchor="start" font-weight="bold" fill="#1a1a1a" >LNCaP</text>
<text x="529.30" y="300.60" font-size="8.8" text-anchor="start" font-weight="bold" fill="#1a1a1a" >parental</text>
<text x="682.20" y="290.00" font-size="8.8" text-anchor="end" font-weight="bold" fill="#1a1a1a" >PACT KO</text>
<text transform="translate(508.60,231.40) rotate(-90)" font-size="8.72" text-anchor="middle" font-weight="bold" fill="#1c1c1c">Enrichment score</text>
<line x1="28.20" y1="300.90" x2="181.00" y2="300.90" stroke="#f1eeec" stroke-width="0.6"/>
<line x1="28.20" y1="312.50" x2="181.00" y2="312.50" stroke="#f1eeec" stroke-width="0.6"/>
<line x1="28.20" y1="324.10" x2="181.00" y2="324.10" stroke="#f1eeec" stroke-width="0.6"/>
<line x1="28.20" y1="347.30" x2="181.00" y2="347.30" stroke="#f1eeec" stroke-width="0.6"/>
<line x1="53.30" y1="289.50" x2="53.30" y2="356.10" stroke="#f1eeec" stroke-width="0.6"/>
<line x1="76.80" y1="289.50" x2="76.80" y2="356.10" stroke="#f1eeec" stroke-width="0.6"/>
<line x1="100.30" y1="289.50" x2="100.30" y2="356.10" stroke="#f1eeec" stroke-width="0.6"/>
<line x1="123.80" y1="289.50" x2="123.80" y2="356.10" stroke="#f1eeec" stroke-width="0.6"/>
<line x1="147.30" y1="289.50" x2="147.30" y2="356.10" stroke="#f1eeec" stroke-width="0.6"/>
<line x1="170.80" y1="289.50" x2="170.80" y2="356.10" stroke="#f1eeec" stroke-width="0.6"/>
<line x1="28.20" y1="335.60" x2="178.00" y2="335.60" stroke="#d8c8c4" stroke-width="0.8"/>
<line x1="28.20" y1="356.10" x2="178.00" y2="356.10" stroke="#dcdcdc" stroke-width="0.7"/>
<line x1="174.00" y1="377.30" x2="178.00" y2="377.30" stroke="#e4e0de" stroke-width="0.7"/>
<rect x="30.00" y="356.60" width="1.00" height="21.00" fill="#77736f" />
<rect x="31.00" y="356.60" width="1.00" height="21.00" fill="#77736f" />
<rect x="32.00" y="356.60" width="1.00" height="21.00" fill="#ccc8c4" />
<rect x="33.00" y="356.60" width="1.00" height="21.00" fill="#888480" />
<rect x="34.00" y="356.60" width="1.00" height="21.00" fill="#66625e" />
<rect x="35.00" y="356.60" width="1.00" height="21.00" fill="#66625e" />
<rect x="36.00" y="356.60" width="1.00" height="21.00" fill="#66625e" />
<rect x="37.00" y="356.60" width="1.00" height="21.00" fill="#ccc8c4" />
<rect x="38.00" y="356.60" width="1.00" height="21.00" fill="#888480" />
<rect x="39.00" y="356.60" width="1.00" height="21.00" fill="#888480" />
<rect x="40.00" y="356.60" width="1.00" height="21.00" fill="#bbb7b3" />
<rect x="41.00" y="356.60" width="1.00" height="21.00" fill="#66625e" />
<rect x="42.00" y="356.60" width="1.00" height="21.00" fill="#66625e" />
<rect x="45.00" y="356.60" width="1.00" height="21.00" fill="#66625e" />
<rect x="50.00" y="356.60" width="1.00" height="21.00" fill="#bbb7b3" />
<rect x="51.00" y="356.60" width="1.00" height="21.00" fill="#bbb7b3" />
<rect x="52.00" y="356.60" width="1.00" height="21.00" fill="#66625e" />
<rect x="53.00" y="356.60" width="1.00" height="21.00" fill="#66625e" />
<rect x="56.00" y="356.60" width="1.00" height="21.00" fill="#ccc8c4" />
<rect x="57.00" y="356.60" width="1.00" height="21.00" fill="#ccc8c4" />
<rect x="58.00" y="356.60" width="1.00" height="21.00" fill="#ccc8c4" />
<rect x="59.00" y="356.60" width="1.00" height="21.00" fill="#55514d" />
<rect x="63.00" y="356.60" width="1.00" height="21.00" fill="#aaa6a2" />
<rect x="64.00" y="356.60" width="1.00" height="21.00" fill="#aaa6a2" />
<rect x="65.00" y="356.60" width="1.00" height="21.00" fill="#77736f" />
<rect x="66.00" y="356.60" width="1.00" height="21.00" fill="#77736f" />
<rect x="69.00" y="356.60" width="1.00" height="21.00" fill="#888480" />
<rect x="70.00" y="356.60" width="1.00" height="21.00" fill="#888480" />
<rect x="72.00" y="356.60" width="1.00" height="21.00" fill="#bbb7b3" />
<rect x="73.00" y="356.60" width="1.00" height="21.00" fill="#bbb7b3" />
<rect x="77.00" y="356.60" width="1.00" height="21.00" fill="#888480" />
<rect x="78.00" y="356.60" width="1.00" height="21.00" fill="#888480" />
<rect x="79.00" y="356.60" width="1.00" height="21.00" fill="#ddd9d5" />
<rect x="80.00" y="356.60" width="1.00" height="21.00" fill="#888480" />
<rect x="81.00" y="356.60" width="1.00" height="21.00" fill="#ccc8c4" />
<rect x="82.00" y="356.60" width="1.00" height="21.00" fill="#55514d" />
<rect x="83.00" y="356.60" width="1.00" height="21.00" fill="#ddd9d5" />
<rect x="84.00" y="356.60" width="1.00" height="21.00" fill="#ccc8c4" />
<rect x="85.00" y="356.60" width="1.00" height="21.00" fill="#ccc8c4" />
<rect x="92.00" y="356.60" width="1.00" height="21.00" fill="#77736f" />
<rect x="93.00" y="356.60" width="1.00" height="21.00" fill="#55514d" />
<rect x="94.00" y="356.60" width="1.00" height="21.00" fill="#66625e" />
<rect x="95.00" y="356.60" width="1.00" height="21.00" fill="#ccc8c4" />
<rect x="96.00" y="356.60" width="1.00" height="21.00" fill="#aaa6a2" />
<rect x="97.00" y="356.60" width="1.00" height="21.00" fill="#aaa6a2" />
<rect x="98.00" y="356.60" width="1.00" height="21.00" fill="#eeeae6" />
<rect x="99.00" y="356.60" width="1.00" height="21.00" fill="#55514d" />
<rect x="106.00" y="356.60" width="1.00" height="21.00" fill="#888480" />
<rect x="107.00" y="356.60" width="1.00" height="21.00" fill="#888480" />
<rect x="108.00" y="356.60" width="1.00" height="21.00" fill="#ccc8c4" />
<rect x="109.00" y="356.60" width="1.00" height="21.00" fill="#ddd9d5" />
<rect x="112.00" y="356.60" width="1.00" height="21.00" fill="#66625e" />
<rect x="113.00" y="356.60" width="1.00" height="21.00" fill="#77736f" />
<rect x="114.00" y="356.60" width="1.00" height="21.00" fill="#ccc8c4" />
<rect x="115.00" y="356.60" width="1.00" height="21.00" fill="#aaa6a2" />
<rect x="116.00" y="356.60" width="1.00" height="21.00" fill="#888480" />
<rect x="117.00" y="356.60" width="1.00" height="21.00" fill="#888480" />
<rect x="118.00" y="356.60" width="1.00" height="21.00" fill="#999591" />
<rect x="119.00" y="356.60" width="1.00" height="21.00" fill="#eeeae6" />
<rect x="120.00" y="356.60" width="1.00" height="21.00" fill="#aaa6a2" />
<rect x="128.00" y="356.60" width="1.00" height="21.00" fill="#888480" />
<rect x="129.00" y="356.60" width="1.00" height="21.00" fill="#999591" />
<rect x="134.00" y="356.60" width="1.00" height="21.00" fill="#888480" />
<rect x="135.00" y="356.60" width="1.00" height="21.00" fill="#bbb7b3" />
<rect x="140.00" y="356.60" width="1.00" height="21.00" fill="#888480" />
<rect x="141.00" y="356.60" width="1.00" height="21.00" fill="#bbb7b3" />
<rect x="144.00" y="356.60" width="1.00" height="21.00" fill="#888480" />
<rect x="145.00" y="356.60" width="1.00" height="21.00" fill="#888480" />
<rect x="149.00" y="356.60" width="1.00" height="21.00" fill="#66625e" />
<rect x="150.00" y="356.60" width="1.00" height="21.00" fill="#66625e" />
<rect x="156.00" y="356.60" width="1.00" height="21.00" fill="#888480" />
<rect x="157.00" y="356.60" width="1.00" height="21.00" fill="#ddd9d5" />
<rect x="159.00" y="356.60" width="1.00" height="21.00" fill="#55514d" />
<rect x="160.00" y="356.60" width="1.00" height="21.00" fill="#ddd9d5" />
<rect x="162.00" y="356.60" width="1.00" height="21.00" fill="#888480" />
<rect x="163.00" y="356.60" width="1.00" height="21.00" fill="#aaa6a2" />
<rect x="165.00" y="356.60" width="1.00" height="21.00" fill="#aaa6a2" />
<rect x="166.00" y="356.60" width="1.00" height="21.00" fill="#aaa6a2" />
<rect x="168.00" y="356.60" width="1.00" height="21.00" fill="#888480" />
<rect x="169.00" y="356.60" width="1.00" height="21.00" fill="#888480" />
<rect x="170.00" y="356.60" width="1.00" height="21.00" fill="#999591" />
<rect x="171.00" y="356.60" width="1.00" height="21.00" fill="#888480" />
<rect x="172.00" y="356.60" width="1.00" height="21.00" fill="#888480" />
<rect x="173.00" y="356.60" width="1.00" height="21.00" fill="#ccc8c4" />
<rect x="30.00" y="377.60" width="22.78" height="5.00" fill="#e4525a" />
<rect x="52.48" y="377.60" width="12.48" height="5.00" fill="#e8677a" />
<rect x="64.66" y="377.60" width="18.57" height="5.00" fill="#ea7b7b" />
<rect x="82.92" y="377.60" width="21.33" height="5.00" fill="#f4b6d6" />
<rect x="103.95" y="377.60" width="19.15" height="5.00" fill="#dccfeb" />
<rect x="122.80" y="377.60" width="16.25" height="5.00" fill="#cbb9e0" />
<rect x="138.75" y="377.60" width="11.90" height="5.00" fill="#8878c0" />
<rect x="150.35" y="377.60" width="19.15" height="5.00" fill="#6a4ba8" />
<rect x="169.20" y="377.60" width="6.10" height="5.00" fill="#523899" />
<polyline points="30.3,330.0 30.6,327.0 31.1,321.9 32.0,315.1 32.8,315.9 33.7,310.8 35.4,306.6 36.6,303.2 37.9,303.2 39.3,300.3 41.0,298.9 42.2,295.2 43.9,295.9 45.6,294.7 48.1,296.4 50.7,297.2 52.4,296.4 53.6,294.1 55.8,295.5 58.3,295.9 60.0,295.5 62.6,297.2 65.1,298.6 67.7,298.6 70.3,299.8 73.7,302.0 77.1,304.0 80.5,305.7 84.7,307.8 89.0,310.8 94.1,314.2 100.9,318.5 106.0,322.7 110.8,327.9 117.6,331.6 124.4,336.4 131.2,341.1 138.0,344.9 143.1,346.6 148.3,348.6 151.7,350.0 155.1,351.3 156.8,352.5 158.5,351.3 160.2,350.8 161.9,349.6 165.3,350.3 167.8,347.4 169.5,345.7 170.4,339.8 172.1,337.2 172.9,333.3 175.5,335.0" fill="none" stroke="#6ab446" stroke-width="1.35" stroke-linejoin="round"/>
<rect x="28.20" y="289.50" width="152.80" height="95.50" fill="none" stroke="#1c1c1c" stroke-width="1.3"/>
<line x1="23.70" y1="300.90" x2="28.20" y2="300.90" stroke="#1c1c1c" stroke-width="1.1"/>
<text x="22.70" y="302.80" font-size="7.9" text-anchor="end" font-weight="bold" fill="#1a1a1a" >0.3</text>
<line x1="23.70" y1="312.50" x2="28.20" y2="312.50" stroke="#1c1c1c" stroke-width="1.1"/>
<text x="22.70" y="314.40" font-size="7.9" text-anchor="end" font-weight="bold" fill="#1a1a1a" >0.2</text>
<line x1="23.70" y1="324.10" x2="28.20" y2="324.10" stroke="#1c1c1c" stroke-width="1.1"/>
<text x="22.70" y="326.00" font-size="7.9" text-anchor="end" font-weight="bold" fill="#1a1a1a" >0.1</text>
<line x1="23.70" y1="335.70" x2="28.20" y2="335.70" stroke="#1c1c1c" stroke-width="1.1"/>
<text x="22.70" y="337.60" font-size="7.9" text-anchor="end" font-weight="bold" fill="#1a1a1a" >0.0</text>
<line x1="23.70" y1="347.30" x2="28.20" y2="347.30" stroke="#1c1c1c" stroke-width="1.1"/>
<text x="22.70" y="349.20" font-size="7.9" text-anchor="end" font-weight="bold" fill="#1a1a1a" >-0.1</text>
<text x="103.00" y="284.20" font-size="8.98" text-anchor="middle" font-weight="bold" fill="#1a1a1a" >Androgen response</text>
<text x="1.30" y="284.20" font-size="8.7" text-anchor="start" font-weight="bold" fill="#1a1a1a" >b)</text>
<text x="120.20" y="302.00" font-size="8.75" text-anchor="start" font-weight="bold" fill="#1a1a1a" >NES = 1.199</text>
<text x="120.20" y="313.60" font-size="8.75" text-anchor="start" font-weight="bold" fill="#1a1a1a" >p = 0.099</text>
<text x="120.20" y="325.10" font-size="8.75" text-anchor="start" font-weight="bold" fill="#1a1a1a" >FDR = 0.1876</text>
<text x="29.40" y="397.00" font-size="8.8" text-anchor="start" font-weight="bold" fill="#1a1a1a" >LNCaP</text>
<text x="28.10" y="407.60" font-size="8.8" text-anchor="start" font-weight="bold" fill="#1a1a1a" >parental</text>
<text x="182.20" y="397.00" font-size="8.8" text-anchor="end" font-weight="bold" fill="#1a1a1a" >PACT KO</text>
<text transform="translate(8.40,323.50) rotate(-90)" font-size="8.72" text-anchor="middle" font-weight="bold" fill="#1c1c1c">Enrichment score</text>
</svg>
</body></html>
